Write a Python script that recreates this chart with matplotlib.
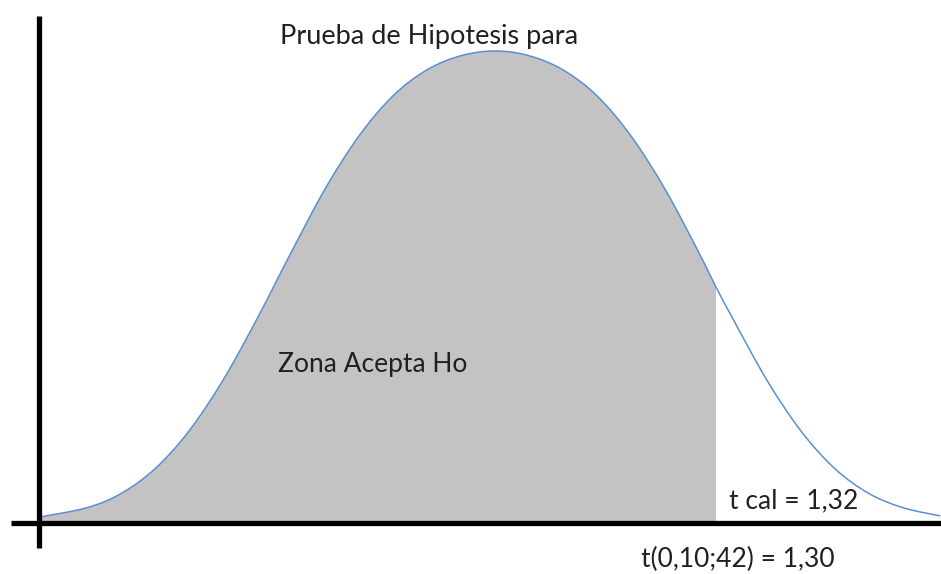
import matplotlib
matplotlib.use("Agg")
import matplotlib.pyplot as plt
from matplotlib.path import Path
from matplotlib.patches import PathPatch
import numpy as np

# curve: t value and height of the bell
t_vals = [-2.68, -2.4, -2.2, -2.0, -1.8, -1.6, -1.4, -1.2, -1.0, -0.8, -0.6, -0.4, -0.2,
          0.0, 0.2, 0.4, 0.6, 0.8, 1.0, 1.2, 1.3, 1.4, 1.6, 1.8, 2.0, 2.2, 2.4, 2.62]
dens_vals = [0.005, 0.013, 0.025, 0.046, 0.078, 0.121, 0.173, 0.229, 0.283, 0.328, 0.362, 0.384, 0.396,
             0.400, 0.396, 0.384, 0.362, 0.328, 0.283, 0.229, 0.200, 0.173, 0.121, 0.078, 0.046, 0.025, 0.013, 0.006]

t_crit = 1.30
t_cal = 1.32
titulo = "Prueba de Hipotesis para"
zona = "Zona Acepta Ho"
lbl_cal = "t cal = 1,32"
lbl_crit = "t(0,10;42) = 1,30"


def smooth_path(xs, ys):
    """curva suave (catmull-rom -> bezier) que pasa por los puntos"""
    pts = np.column_stack([xs, ys])
    n = len(pts)
    verts = [pts[0]]
    codes = [Path.MOVETO]
    for i in range(n - 1):
        p0 = pts[max(i - 1, 0)]
        p1 = pts[i]
        p2 = pts[i + 1]
        p3 = pts[min(i + 2, n - 1)]
        c1 = p1 + (p2 - p0) / 6.0
        c2 = p2 - (p3 - p1) / 6.0
        verts += [c1, c2, p2]
        codes += [Path.CURVE4] * 3
    return verts, codes


t = np.array(t_vals)
d = np.array(dens_vals)

plt.rcParams['font.family'] = ['Lato', 'DejaVu Sans']

fig = plt.figure(figsize=(9.41, 5.74), dpi=100)
ax = fig.add_axes([0, 0, 1, 1])
ax.set_xlim(-2.912, 2.624)
ax.set_ylim(-0.0432, 0.4432)
ax.axis('off')

# zona de aceptacion sombreada
k = int(np.where(np.isclose(t, t_crit))[0][0]) + 1
fv, fc = smooth_path(t[:k], d[:k])
fv += [(t_crit, 0), (t[0], 0), (t[0], d[0])]
fc += [Path.LINETO, Path.LINETO, Path.CLOSEPOLY]
ax.add_patch(PathPatch(Path(fv, fc), facecolor='#c3c3c3', edgecolor='none', zorder=1))

lv, lc = smooth_path(t, d)
ax.add_patch(PathPatch(Path(lv, lc), facecolor='none', edgecolor='#5b8fd0', lw=1.1, zorder=2))

# ejes dibujados a mano
ax.plot([-2.85, 2.624], [0, 0], color='black', lw=3.8, solid_capstyle='butt', zorder=3)
ax.plot([-2.68, -2.68], [-0.021, 0.43], color='black', lw=3.8, solid_capstyle='butt', zorder=3)

tc = '#1f1f24'
fs = 19
ax.text(-1.265, 0.4125, titulo, fontsize=19.5, color=tc, va='center', ha='left')
ax.text(-1.276, 0.134, zona, fontsize=fs, color=tc, va='center', ha='left')
ax.text(t_cal + 0.056, 0.0185, lbl_cal, fontsize=fs, color=tc, va='center', ha='left')
ax.text(t_crit - 0.441, -0.0305, lbl_crit, fontsize=fs, color=tc, va='center', ha='left')

fig.savefig('out.png', dpi=100)
